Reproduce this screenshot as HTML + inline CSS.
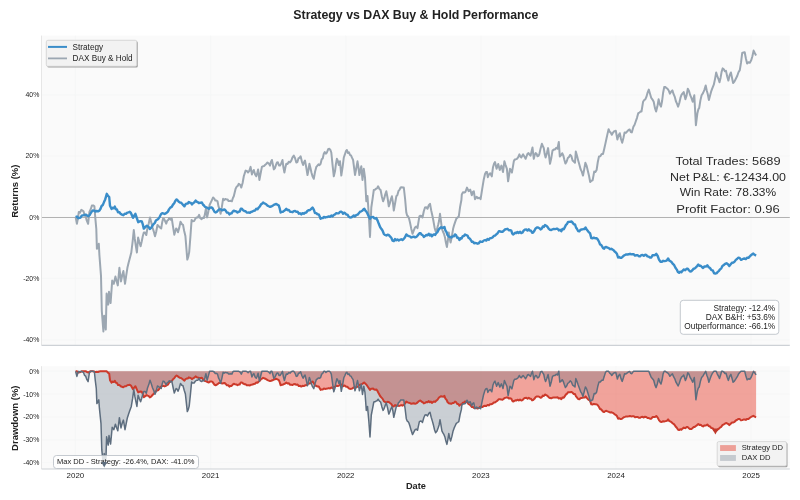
<!DOCTYPE html><html><head><meta charset="utf-8"><style>html,body{margin:0;padding:0;background:#fff;width:800px;height:500px;overflow:hidden}svg{display:block;will-change:transform}</style></head><body><svg width="800" height="500" viewBox="0 0 800 500"><rect x="0" y="0" width="800" height="500" fill="#ffffff"/>
<text x="415.8" y="18.6" text-anchor="middle" font-family='"Liberation Sans", sans-serif' font-weight="bold" font-size="12" fill="#222" textLength="245" lengthAdjust="spacingAndGlyphs">Strategy vs DAX Buy &amp; Hold Performance</text>
<rect x="41.5" y="35.6" width="748.3" height="309.7" fill="#fafafa"/>
<line x1="75.4" y1="35.6" x2="75.4" y2="345.3" stroke="#f5f6f7" stroke-width="0.7"/>
<line x1="210.6" y1="35.6" x2="210.6" y2="345.3" stroke="#f5f6f7" stroke-width="0.7"/>
<line x1="345.7" y1="35.6" x2="345.7" y2="345.3" stroke="#f5f6f7" stroke-width="0.7"/>
<line x1="480.9" y1="35.6" x2="480.9" y2="345.3" stroke="#f5f6f7" stroke-width="0.7"/>
<line x1="616.0" y1="35.6" x2="616.0" y2="345.3" stroke="#f5f6f7" stroke-width="0.7"/>
<line x1="751.1" y1="35.6" x2="751.1" y2="345.3" stroke="#f5f6f7" stroke-width="0.7"/>
<line x1="41.5" y1="94.7" x2="789.8" y2="94.7" stroke="#f5f6f7" stroke-width="0.7"/>
<line x1="41.5" y1="155.9" x2="789.8" y2="155.9" stroke="#f5f6f7" stroke-width="0.7"/>
<line x1="41.5" y1="217.2" x2="789.8" y2="217.2" stroke="#f5f6f7" stroke-width="0.7"/>
<line x1="41.5" y1="278.4" x2="789.8" y2="278.4" stroke="#f5f6f7" stroke-width="0.7"/>
<line x1="41.5" y1="339.7" x2="789.8" y2="339.7" stroke="#f5f6f7" stroke-width="0.7"/>
<line x1="41.5" y1="217.5" x2="789.8" y2="217.5" stroke="#b2b2b2" stroke-width="1"/>
<path d="M75.6,216.9 L76.9,223.8 L77.8,219.1 L78.8,211.9 L80.0,212.7 L81.3,209.8 L82.5,210.6 L83.5,211.3 L84.6,215.3 L85.6,216.3 L86.8,220.7 L88.1,223.8 L89.4,211.9 L90.7,209.2 L91.9,205.6 L93.2,205.4 L94.4,206.3 L95.3,217.8 L96.3,228.8 L96.9,248.8 L97.8,246.6 L98.8,243.8 L99.4,255.0 L101.0,275.8 L101.8,311.0 L103.4,331.5 L104.2,315.8 L105.8,329.6 L106.6,293.4 L108.2,304.6 L109.0,291.8 L110.6,303.0 L112.2,280.6 L113.8,283.8 L115.4,276.6 L116.6,281.2 L117.8,285.4 L119.4,267.8 L121.0,281.4 L122.2,275.2 L123.4,271.0 L125.0,283.8 L126.2,275.6 L127.4,267.8 L128.6,262.7 L129.8,258.2 L131.3,252.5 L132.6,241.9 L133.8,230.0 L134.8,238.9 L135.9,246.3 L136.9,252.5 L138.1,237.5 L139.3,242.0 L140.6,246.3 L141.7,241.5 L142.7,236.5 L143.8,232.5 L145.1,232.5 L146.3,235.0 L147.5,227.8 L148.8,223.2 L150.0,217.5 L151.2,222.0 L152.5,227.5 L153.8,231.6 L155.0,236.3 L156.2,231.7 L157.5,225.0 L158.7,226.2 L160.0,227.5 L161.2,228.5 L162.1,222.8 L163.1,218.6 L164.1,218.9 L165.2,221.4 L166.2,223.6 L167.2,220.7 L168.3,219.9 L169.3,218.0 L170.6,219.7 L171.8,218.6 L173.1,227.1 L174.3,234.7 L176.1,228.5 L177.1,229.5 L178.0,232.3 L179.2,228.1 L180.5,221.7 L181.8,224.1 L183.0,224.8 L184.2,231.0 L185.4,236.0 L186.4,248.5 L187.3,259.6 L188.2,257.0 L189.2,252.1 L190.4,236.7 L191.6,219.9 L192.8,221.3 L194.1,221.1 L195.3,218.8 L196.6,217.4 L197.8,217.5 L199.1,214.9 L200.3,218.3 L201.6,219.2 L202.8,217.7 L204.0,218.0 L204.9,214.1 L205.9,208.7 L207.1,217.4 L208.3,211.8 L209.6,205.0 L210.8,202.4 L211.9,200.1 L213.1,197.5 L214.2,198.4 L215.3,200.6 L216.4,200.4 L217.5,201.3 L218.5,206.4 L219.6,209.2 L220.6,213.8 L221.8,207.4 L223.1,198.8 L224.2,200.1 L225.3,199.0 L226.4,199.4 L227.5,199.4 L228.6,201.1 L229.7,201.0 L230.8,200.8 L231.9,201.3 L232.9,198.0 L233.8,196.3 L235.6,188.8 L236.7,186.6 L237.7,186.0 L238.8,183.8 L240.1,184.7 L241.3,187.5 L242.6,183.0 L243.8,176.3 L245.6,170.6 L246.8,170.9 L248.1,172.5 L249.3,170.9 L250.6,166.9 L251.9,174.4 L252.9,171.7 L253.8,170.0 L255.1,174.4 L256.3,176.3 L257.2,173.4 L258.1,169.4 L259.4,180.0 L260.6,173.5 L261.9,166.9 L262.9,166.3 L264.0,166.1 L265.0,165.0 L266.2,164.0 L267.5,162.5 L268.8,163.5 L270.0,165.6 L270.9,162.0 L271.9,160.0 L272.9,164.7 L273.8,169.4 L274.8,168.3 L275.9,165.1 L276.9,162.5 L277.9,162.3 L279.0,165.5 L280.0,165.6 L281.2,163.4 L282.5,160.0 L283.4,167.4 L284.4,172.5 L285.4,167.3 L286.3,163.8 L287.5,164.1 L288.8,161.7 L290.0,162.5 L291.3,160.6 L292.5,157.3 L293.8,155.6 L295.1,158.3 L296.3,162.5 L297.4,162.0 L298.5,158.3 L299.5,157.9 L300.6,156.3 L301.9,161.6 L303.1,165.0 L304.1,162.1 L305.0,160.6 L306.2,167.0 L307.5,175.0 L308.4,170.5 L309.4,163.8 L310.4,167.8 L311.5,172.7 L312.5,176.3 L313.8,178.8 L315.1,171.5 L316.3,166.9 L317.4,165.7 L318.5,164.4 L319.5,165.1 L320.6,163.8 L321.7,159.3 L322.7,158.4 L323.8,153.8 L324.8,152.0 L325.9,153.6 L326.9,152.5 L328.1,149.3 L329.4,148.8 L330.4,150.0 L331.3,152.5 L332.6,165.3 L333.8,176.3 L335.0,171.3 L335.9,164.1 L336.9,158.8 L337.9,161.0 L338.8,165.0 L340.0,161.3 L341.3,175.6 L342.6,167.1 L343.8,157.5 L344.8,154.7 L345.9,151.2 L346.9,150.0 L347.9,153.0 L349.0,152.4 L350.0,155.0 L351.0,155.4 L352.1,157.9 L353.1,160.0 L354.1,167.8 L355.0,175.0 L356.2,168.8 L357.5,161.3 L358.4,167.1 L359.4,175.0 L360.4,170.2 L361.3,166.3 L362.5,180.0 L363.8,168.8 L365.0,177.5 L366.3,201.3 L367.5,196.0 L368.8,215.1 L370.0,236.9 L371.3,207.5 L372.6,198.6 L373.8,190.0 L374.9,189.8 L376.0,188.8 L377.0,188.4 L378.1,186.3 L379.4,188.9 L380.6,190.0 L381.9,196.7 L383.1,201.3 L384.2,198.5 L385.2,194.6 L386.3,191.3 L387.6,198.0 L388.8,206.3 L389.8,203.4 L390.9,199.1 L391.9,196.3 L392.9,202.3 L393.8,210.6 L395.1,203.3 L396.3,196.3 L397.4,195.1 L398.5,190.9 L399.5,189.9 L400.6,187.5 L401.7,187.2 L402.7,187.5 L403.8,187.5 L405.1,199.0 L406.3,212.5 L407.2,215.7 L408.1,216.3 L409.1,218.7 L410.0,222.5 L411.2,228.4 L412.5,233.8 L413.8,230.4 L415.0,227.5 L416.2,226.5 L417.5,228.1 L418.4,222.4 L419.4,216.3 L420.4,215.7 L421.5,215.9 L422.5,217.5 L423.8,211.2 L425.0,207.5 L426.2,207.2 L427.5,208.8 L428.8,205.2 L430.0,203.8 L431.2,210.4 L432.5,216.3 L433.5,221.3 L434.6,227.7 L435.6,231.3 L436.9,229.4 L438.1,225.0 L439.1,220.8 L440.0,213.8 L440.9,220.6 L441.9,228.8 L442.9,231.5 L444.0,233.9 L445.0,237.5 L445.9,242.5 L446.9,247.0 L447.9,240.1 L448.8,232.5 L449.7,238.3 L450.6,242.5 L451.9,236.2 L453.1,228.8 L454.2,224.8 L455.2,221.9 L456.3,218.8 L457.6,217.6 L458.8,216.3 L460.1,206.8 L461.4,200.0 L461.8,194.4 L463.0,192.3 L464.2,192.5 L465.4,192.0 L467.0,187.6 L468.6,191.2 L470.2,189.6 L471.8,195.2 L472.8,192.1 L473.8,191.2 L475.0,199.2 L476.6,196.8 L477.9,198.2 L479.3,197.7 L480.6,199.2 L482.2,188.8 L483.6,180.3 L485.0,174.0 L486.0,172.1 L487.0,172.0 L487.8,177.2 L489.0,174.4 L490.2,173.2 L491.8,176.4 L493.0,167.2 L494.0,163.8 L495.0,162.0 L496.6,168.8 L498.2,164.0 L499.8,170.0 L501.4,165.6 L503.0,172.0 L504.4,161.3 L505.6,165.1 L506.9,168.8 L508.1,181.3 L509.1,175.0 L510.0,168.8 L510.9,170.1 L511.9,172.5 L512.8,167.3 L513.8,161.3 L514.7,159.5 L515.6,159.4 L516.9,158.9 L518.1,157.4 L519.4,154.4 L520.3,156.6 L521.3,157.5 L522.2,155.8 L523.1,154.4 L524.4,156.6 L525.6,158.8 L526.5,156.5 L527.5,153.8 L528.5,153.1 L529.6,154.8 L530.6,155.6 L531.5,151.6 L532.5,147.5 L533.8,158.8 L534.7,155.1 L535.6,153.1 L536.5,153.6 L537.5,156.3 L538.5,155.9 L539.4,153.8 L540.6,148.4 L541.9,143.8 L542.8,146.0 L543.8,148.1 L544.7,154.0 L545.6,157.5 L546.9,153.1 L548.1,148.1 L549.0,155.4 L550.0,163.8 L551.2,158.6 L552.5,150.6 L553.8,149.6 L555.0,149.4 L556.2,147.8 L557.5,148.8 L558.8,141.9 L559.8,156.4 L561.0,155.3 L562.2,153.2 L563.3,155.5 L564.3,159.6 L565.4,163.6 L566.6,161.8 L567.8,158.0 L569.0,156.9 L570.2,154.8 L571.4,156.2 L572.6,160.4 L573.8,161.5 L575.0,162.8 L575.8,151.6 L577.0,155.7 L578.2,160.4 L579.4,164.8 L580.6,169.2 L581.8,171.6 L583.0,175.6 L584.2,169.4 L585.4,162.8 L586.6,165.6 L587.8,170.8 L589.0,175.8 L590.2,182.0 L591.4,180.8 L592.6,180.4 L594.2,171.6 L595.4,172.0 L596.6,170.0 L597.8,162.0 L599.0,156.4 L600.3,156.3 L601.7,153.9 L603.0,154.0 L604.2,149.0 L605.4,143.6 L606.5,138.5 L607.5,133.9 L608.6,129.2 L609.7,131.8 L610.7,132.6 L611.8,134.8 L613.1,132.4 L614.5,131.1 L615.8,130.8 L617.4,139.6 L618.6,135.2 L619.8,133.2 L621.0,139.0 L622.2,142.8 L623.4,138.0 L624.6,132.4 L625.9,132.9 L627.3,131.3 L628.6,130.0 L629.7,129.5 L630.7,132.0 L631.8,132.4 L633.4,126.8 L634.6,124.8 L635.8,121.2 L637.0,117.8 L638.3,113.1 L639.4,112.6 L640.4,111.6 L641.5,111.5 L643.1,101.7 L644.2,100.0 L645.3,99.3 L646.4,96.9 L647.6,92.6 L648.8,89.6 L650.0,93.7 L651.2,97.7 L652.5,99.6 L653.7,101.7 L654.9,107.9 L656.1,111.5 L657.4,106.3 L658.6,99.3 L659.8,104.2 L661.0,106.6 L662.1,101.0 L663.1,93.0 L664.2,87.1 L665.3,86.9 L666.4,88.1 L667.5,88.7 L668.7,90.5 L669.9,93.6 L671.1,91.8 L672.4,90.4 L673.6,94.2 L674.8,96.9 L675.9,101.3 L677.0,103.6 L678.1,106.6 L679.3,103.0 L680.5,97.7 L681.6,94.7 L682.6,93.5 L683.7,92.0 L685.4,99.3 L686.6,95.4 L687.8,88.7 L689.0,91.0 L690.2,95.2 L691.5,98.2 L692.7,101.7 L694.3,95.2 L695.9,125.2 L697.4,113.2 L698.3,109.4 L699.2,108.0 L700.4,100.4 L701.6,95.2 L703.0,93.1 L704.3,90.1 L705.7,85.5 L706.8,90.8 L707.8,94.2 L708.9,100.1 L710.0,95.7 L711.1,91.7 L712.2,88.7 L713.8,84.7 L715.0,79.1 L716.2,72.5 L717.3,76.2 L718.4,78.8 L719.5,82.2 L720.6,77.7 L721.6,71.9 L722.7,68.4 L723.8,69.3 L724.9,71.3 L726.0,70.9 L727.2,76.5 L728.4,80.6 L729.6,75.4 L730.9,72.5 L732.0,77.8 L733.1,83.0 L734.4,81.6 L735.7,79.0 L737.3,75.7 L738.5,72.2 L739.8,70.1 L741.0,62.7 L742.2,53.0 L743.5,52.5 L744.7,52.2 L745.9,58.5 L747.1,63.6 L748.5,62.2 L749.8,62.8 L751.2,60.3 L752.4,56.2 L753.6,50.6 L754.9,53.2 L756.1,55.4" fill="none" stroke="#9ca7b2" stroke-width="2.0" stroke-linejoin="round"/>
<path d="M75.6,217.0 L76.9,216.5 L78.3,218.2 L79.6,217.8 L80.7,217.5 L81.7,215.7 L82.8,215.4 L83.9,215.1 L84.9,214.8 L86.0,214.6 L87.2,215.7 L88.4,216.2 L89.6,215.2 L90.8,213.0 L91.9,211.4 L92.9,210.5 L94.0,210.6 L95.3,211.5 L96.7,211.0 L98.0,211.4 L99.2,210.7 L100.4,209.0 L101.6,206.0 L102.8,205.0 L104.0,202.1 L105.2,199.4 L106.8,193.8 L108.0,195.8 L109.2,197.0 L110.0,205.8 L111.6,209.0 L112.7,207.7 L113.7,208.3 L114.8,206.6 L115.9,209.3 L116.9,209.4 L118.0,212.2 L119.3,212.1 L120.7,213.9 L122.0,214.6 L123.3,215.2 L124.7,213.8 L126.0,213.8 L127.3,212.6 L128.5,212.3 L129.8,211.8 L130.9,212.9 L131.9,215.2 L133.0,217.8 L134.2,215.7 L135.4,213.8 L136.8,218.0 L138.2,222.2 L139.4,221.4 L140.6,221.1 L141.8,221.4 L142.8,224.4 L143.8,228.6 L145.2,227.1 L146.6,225.8 L147.7,226.4 L148.7,227.0 L149.8,229.0 L151.1,227.9 L152.5,225.6 L153.8,223.8 L154.9,222.8 L155.9,220.5 L157.0,219.8 L158.3,218.9 L159.7,216.8 L161.0,214.2 L162.2,213.2 L163.4,213.5 L164.6,214.0 L165.8,213.4 L166.9,212.5 L167.9,211.6 L169.0,209.4 L170.3,207.6 L171.7,206.9 L173.0,204.6 L174.2,203.2 L175.4,200.7 L176.6,199.4 L177.7,200.4 L178.8,201.8 L179.9,202.5 L181.0,202.6 L182.1,203.8 L183.3,205.2 L184.4,206.3 L185.5,204.3 L186.6,203.6 L187.7,203.6 L188.8,201.9 L189.8,202.6 L190.9,202.9 L191.9,204.4 L193.1,203.2 L194.4,202.3 L195.6,200.6 L196.7,201.8 L197.7,202.0 L198.8,203.1 L199.8,202.8 L200.9,202.7 L201.9,202.5 L202.9,204.5 L204.0,205.5 L205.0,206.9 L206.3,207.3 L207.5,208.1 L208.8,208.8 L210.0,207.6 L211.3,207.4 L212.5,208.1 L213.5,210.0 L214.6,212.0 L215.6,212.5 L216.7,211.9 L217.8,210.7 L218.9,209.5 L220.0,209.4 L221.1,209.4 L222.2,210.4 L223.3,209.9 L224.4,209.4 L225.7,210.7 L226.9,212.6 L228.2,212.6 L229.4,214.4 L230.5,213.5 L231.6,213.4 L232.7,211.7 L233.8,210.6 L235.0,211.2 L236.3,211.4 L237.5,212.5 L238.6,211.7 L239.7,211.6 L240.8,208.7 L241.9,208.8 L243.1,210.2 L244.4,211.1 L245.6,211.3 L246.7,212.5 L247.7,212.6 L248.8,212.5 L250.0,212.7 L251.3,211.8 L252.5,211.5 L253.8,210.8 L255.0,210.6 L256.3,208.7 L257.5,209.3 L258.8,207.5 L259.9,206.4 L261.0,204.4 L262.0,203.8 L263.1,202.5 L264.2,203.2 L265.3,203.8 L266.4,204.5 L267.5,205.6 L268.8,206.3 L270.0,206.9 L271.2,206.5 L272.5,205.9 L273.8,204.9 L275.0,204.4 L276.3,203.9 L277.5,204.7 L278.8,205.6 L279.7,208.4 L280.6,212.5 L281.7,211.9 L282.9,211.7 L284.0,210.9 L285.2,210.1 L286.3,208.8 L287.6,210.2 L288.8,209.9 L290.1,211.8 L291.3,211.9 L292.6,212.2 L293.8,211.1 L295.1,210.9 L296.3,211.9 L297.6,211.6 L298.8,213.7 L300.1,213.3 L301.3,214.4 L302.6,213.1 L303.8,213.7 L305.1,212.7 L306.3,212.5 L307.5,210.8 L308.8,210.2 L310.0,210.0 L311.2,208.8 L312.5,207.5 L313.8,209.6 L315.0,213.1 L316.3,213.1 L317.5,214.4 L318.8,214.4 L319.7,216.5 L320.6,218.8 L321.7,218.1 L322.8,218.1 L323.9,216.9 L325.0,217.5 L326.2,217.1 L327.5,217.0 L328.8,216.4 L330.0,216.9 L331.3,215.5 L332.5,216.4 L333.8,215.0 L335.0,214.4 L336.3,213.2 L337.5,213.4 L338.8,213.2 L340.0,211.9 L341.0,211.6 L342.1,212.2 L343.1,213.8 L344.1,212.7 L345.0,213.1 L346.2,214.6 L347.5,214.6 L348.8,216.8 L350.0,217.5 L351.3,217.4 L352.5,216.6 L353.8,215.4 L355.0,216.5 L356.3,215.0 L357.6,214.7 L358.8,213.2 L360.1,211.7 L361.3,211.3 L362.3,210.8 L363.4,209.4 L364.4,208.8 L365.4,210.6 L366.5,211.8 L367.5,213.8 L368.8,216.6 L370.0,218.8 L371.0,217.3 L372.1,217.1 L373.1,216.9 L374.2,218.2 L375.2,218.5 L376.3,218.1 L377.6,220.6 L378.8,223.8 L380.1,227.0 L381.3,228.8 L382.5,230.5 L383.8,233.8 L385.0,235.0 L386.3,235.5 L387.5,234.8 L388.8,235.0 L390.0,236.4 L391.3,237.8 L392.5,240.6 L393.8,241.1 L395.0,239.1 L396.2,240.3 L397.5,239.4 L398.8,240.5 L400.0,239.8 L401.2,239.2 L402.5,240.0 L403.8,238.9 L405.0,237.2 L406.3,234.4 L407.6,235.6 L408.8,236.0 L410.1,236.5 L411.3,237.5 L412.6,237.0 L413.8,236.6 L415.1,237.4 L416.3,236.9 L417.4,235.8 L418.5,234.4 L419.5,233.3 L420.6,233.1 L421.7,234.7 L422.7,235.2 L423.8,236.9 L425.1,236.1 L426.3,235.0 L427.6,235.3 L428.8,233.8 L429.8,235.4 L430.9,234.5 L431.9,236.3 L433.0,234.9 L434.1,234.4 L435.2,234.9 L436.3,233.1 L437.5,232.0 L438.8,229.4 L440.0,228.1 L441.1,227.2 L442.2,227.8 L443.3,227.9 L444.4,226.9 L445.4,230.5 L446.5,232.0 L447.5,235.0 L448.8,236.6 L450.0,237.0 L451.3,237.5 L452.5,236.4 L453.8,236.4 L455.0,234.4 L456.1,235.3 L457.2,237.7 L458.3,237.8 L459.4,240.0 L460.5,238.2 L461.6,238.6 L462.8,236.1 L463.9,236.0 L465.0,234.4 L466.2,235.2 L467.5,235.6 L468.6,237.9 L469.7,238.5 L470.8,240.0 L471.9,241.9 L473.0,241.8 L474.1,243.2 L475.2,243.0 L476.3,243.1 L477.6,243.7 L478.8,243.3 L480.1,241.5 L481.3,241.9 L482.6,241.7 L483.8,240.5 L485.1,240.0 L486.3,240.6 L487.5,238.9 L488.8,239.7 L490.0,238.1 L491.2,238.1 L492.5,237.5 L493.8,235.9 L495.0,235.6 L496.3,234.4 L497.5,233.3 L498.8,231.3 L500.0,231.3 L501.3,231.8 L502.5,231.9 L503.8,230.6 L505.0,229.5 L506.2,229.1 L507.5,228.8 L508.8,230.2 L510.0,230.1 L511.3,230.6 L512.2,233.4 L513.1,234.4 L514.2,233.7 L515.3,232.7 L516.4,233.1 L517.5,231.9 L518.8,233.0 L520.0,231.7 L521.3,233.1 L522.5,232.5 L523.8,230.4 L525.0,229.6 L526.3,229.4 L527.5,230.6 L528.8,229.3 L530.0,230.6 L531.0,230.7 L532.1,232.8 L533.1,232.5 L534.4,230.7 L535.6,228.4 L536.9,227.5 L538.1,227.5 L539.4,228.2 L540.6,229.4 L541.7,228.8 L542.8,226.4 L543.9,226.9 L545.0,225.0 L546.2,225.7 L547.5,226.9 L548.8,228.9 L550.0,229.8 L551.3,230.0 L552.5,229.3 L553.8,228.9 L555.0,229.1 L556.3,228.8 L557.5,228.6 L558.8,230.4 L560.0,229.8 L561.3,231.3 L562.5,228.9 L563.8,229.3 L565.0,226.9 L566.0,224.8 L567.1,223.8 L568.1,221.9 L569.2,221.9 L570.3,221.8 L571.4,221.5 L572.5,222.5 L573.8,224.3 L575.0,224.4 L576.0,227.5 L576.9,228.8 L578.1,231.0 L579.4,231.3 L580.4,229.9 L581.5,229.5 L582.5,229.4 L583.5,229.0 L584.6,229.1 L585.6,227.5 L586.5,229.1 L587.5,230.6 L588.8,232.2 L590.0,233.1 L591.3,238.1 L592.5,238.4 L593.8,237.6 L595.0,238.2 L596.3,238.1 L597.2,238.7 L598.1,240.0 L599.0,241.7 L600.0,244.4 L601.0,244.8 L602.1,246.4 L603.1,248.1 L604.2,248.7 L605.2,247.2 L606.3,246.9 L607.5,247.7 L608.8,248.1 L610.0,249.2 L611.3,248.8 L612.3,249.4 L613.4,250.1 L614.4,251.3 L615.6,252.2 L616.9,253.8 L618.1,257.5 L619.2,257.0 L620.3,257.9 L621.4,257.8 L622.5,256.9 L623.8,255.6 L625.0,255.0 L626.2,254.4 L627.5,254.5 L628.8,254.3 L630.0,253.8 L631.2,254.4 L632.5,254.2 L633.8,254.2 L635.0,255.6 L636.2,255.3 L637.5,255.1 L638.8,256.2 L640.0,256.3 L641.3,255.2 L642.5,254.9 L643.8,255.8 L645.0,254.8 L646.3,255.0 L647.5,256.4 L648.8,256.7 L650.0,257.5 L651.3,257.5 L652.5,255.3 L653.8,255.3 L655.0,255.1 L656.3,253.8 L657.7,256.0 L659.1,259.8 L660.5,261.7 L661.9,261.8 L663.2,260.8 L664.6,261.1 L665.8,260.8 L666.9,260.3 L668.1,258.4 L669.1,260.4 L670.1,261.1 L671.5,262.1 L672.9,263.9 L674.2,265.2 L675.6,268.0 L676.8,269.6 L677.9,272.0 L679.1,272.8 L680.2,271.7 L681.4,272.3 L682.5,270.8 L683.9,269.4 L685.2,270.2 L686.6,268.7 L687.8,268.7 L688.9,270.2 L690.1,271.5 L691.2,271.4 L692.4,270.2 L693.5,268.7 L694.7,268.5 L695.9,267.3 L697.1,266.1 L698.3,264.6 L699.5,265.8 L700.7,265.7 L701.9,267.0 L703.1,268.0 L704.5,266.4 L705.9,266.6 L707.3,265.3 L708.7,267.2 L710.0,268.0 L711.4,270.1 L712.8,270.4 L714.1,273.3 L715.5,273.5 L716.7,273.2 L717.8,271.8 L719.0,270.8 L720.1,269.3 L721.3,268.3 L722.4,266.0 L723.8,265.0 L725.1,263.9 L726.5,263.2 L727.9,264.3 L729.3,266.0 L730.7,264.3 L732.0,262.7 L733.4,262.5 L734.6,261.6 L735.8,259.9 L737.0,259.0 L738.2,257.7 L739.6,257.9 L741.0,259.8 L742.2,259.3 L743.4,258.7 L744.6,258.5 L745.8,259.1 L747.2,257.7 L748.5,257.9 L749.9,256.3 L751.0,255.2 L752.2,254.3 L753.3,253.6 L754.7,254.8 L756.1,255.6" fill="none" stroke="#3a8dc9" stroke-width="2.4" stroke-linejoin="round"/>
<line x1="41.5" y1="35.6" x2="41.5" y2="345.3" stroke="#e6e6e6" stroke-width="1"/>
<line x1="41.5" y1="345.3" x2="789.8" y2="345.3" stroke="#cdd1d6" stroke-width="1.2"/>
<text x="39.3" y="97.2" text-anchor="end" font-family='"Liberation Sans", sans-serif' font-size="6.9" fill="#222">40%</text>
<text x="39.3" y="158.4" text-anchor="end" font-family='"Liberation Sans", sans-serif' font-size="6.9" fill="#222">20%</text>
<text x="39.3" y="219.7" text-anchor="end" font-family='"Liberation Sans", sans-serif' font-size="6.9" fill="#222">0%</text>
<text x="39.3" y="280.9" text-anchor="end" font-family='"Liberation Sans", sans-serif' font-size="6.9" fill="#222">-20%</text>
<text x="39.3" y="342.2" text-anchor="end" font-family='"Liberation Sans", sans-serif' font-size="6.9" fill="#222">-40%</text>
<text transform="translate(17.8,191.2) rotate(-90)" text-anchor="middle" font-family='"Liberation Sans", sans-serif' font-weight="bold" font-size="9.5" fill="#222">Returns (%)</text>
<rect x="47.3" y="41.3" width="90.5" height="26.2" rx="1.5" fill="#8a8a8a" opacity="0.8"/>
<rect x="46.3" y="40.3" width="90.5" height="26" rx="1.5" fill="#f2f2f2" stroke="#d0d0d0" stroke-width="0.8"/>
<line x1="48" y1="46.9" x2="67" y2="46.9" stroke="#3a8dc9" stroke-width="2.0"/>
<line x1="48" y1="58.4" x2="67" y2="58.4" stroke="#9ca7b2" stroke-width="1.8"/>
<text x="72.6" y="49.6" font-family='"Liberation Sans", sans-serif' font-size="8.2" fill="#222">Strategy</text>
<text x="72.6" y="61.3" font-family='"Liberation Sans", sans-serif' font-size="8.2" fill="#222">DAX Buy &amp; Hold</text>
<text x="728" y="164.6" text-anchor="middle" font-family='"Liberation Sans", sans-serif' font-size="11.4" fill="#2a2a2a" textLength="105" lengthAdjust="spacingAndGlyphs">Total Trades: 5689</text>
<text x="728" y="180.6" text-anchor="middle" font-family='"Liberation Sans", sans-serif' font-size="11.4" fill="#2a2a2a" textLength="116" lengthAdjust="spacingAndGlyphs">Net P&amp;L: €-12434.00</text>
<text x="728" y="196.4" text-anchor="middle" font-family='"Liberation Sans", sans-serif' font-size="11.4" fill="#2a2a2a" textLength="96.3" lengthAdjust="spacingAndGlyphs">Win Rate: 78.33%</text>
<text x="728" y="212.6" text-anchor="middle" font-family='"Liberation Sans", sans-serif' font-size="11.4" fill="#2a2a2a" textLength="103.5" lengthAdjust="spacingAndGlyphs">Profit Factor: 0.96</text>
<rect x="680.3" y="300.3" width="98.5" height="34" rx="3" fill="#ffffff" fill-opacity="0.85" stroke="#b6bcc4" stroke-width="0.8"/>
<text x="775.2" y="310.9" text-anchor="end" font-family='"Liberation Sans", sans-serif' font-size="8.3" fill="#222">Strategy: -12.4%</text>
<text x="775.2" y="319.8" text-anchor="end" font-family='"Liberation Sans", sans-serif' font-size="8.3" fill="#222">DAX B&amp;H: +53.6%</text>
<text x="775.2" y="328.7" text-anchor="end" font-family='"Liberation Sans", sans-serif' font-size="8.3" fill="#222">Outperformance: -66.1%</text>
<rect x="41.5" y="366.2" width="748.3" height="102.80000000000001" fill="#fafafa"/>
<line x1="75.4" y1="366.2" x2="75.4" y2="469.0" stroke="#f5f6f7" stroke-width="0.7"/>
<line x1="210.6" y1="366.2" x2="210.6" y2="469.0" stroke="#f5f6f7" stroke-width="0.7"/>
<line x1="345.7" y1="366.2" x2="345.7" y2="469.0" stroke="#f5f6f7" stroke-width="0.7"/>
<line x1="480.9" y1="366.2" x2="480.9" y2="469.0" stroke="#f5f6f7" stroke-width="0.7"/>
<line x1="616.0" y1="366.2" x2="616.0" y2="469.0" stroke="#f5f6f7" stroke-width="0.7"/>
<line x1="751.1" y1="366.2" x2="751.1" y2="469.0" stroke="#f5f6f7" stroke-width="0.7"/>
<line x1="41.5" y1="371.3" x2="789.8" y2="371.3" stroke="#f5f6f7" stroke-width="0.7"/>
<line x1="41.5" y1="394.1" x2="789.8" y2="394.1" stroke="#f5f6f7" stroke-width="0.7"/>
<line x1="41.5" y1="416.9" x2="789.8" y2="416.9" stroke="#f5f6f7" stroke-width="0.7"/>
<line x1="41.5" y1="439.7" x2="789.8" y2="439.7" stroke="#f5f6f7" stroke-width="0.7"/>
<line x1="41.5" y1="462.5" x2="789.8" y2="462.5" stroke="#f5f6f7" stroke-width="0.7"/>
<path d="M75.6,371.3 L75.6,371.3 L76.9,371.3 L78.3,372.6 L79.6,372.2 L80.7,372.0 L81.7,371.3 L82.8,371.3 L83.9,371.3 L84.9,371.3 L86.0,371.3 L87.2,372.1 L88.4,372.5 L89.6,371.7 L90.8,371.3 L91.9,371.3 L92.9,371.3 L94.0,371.4 L95.3,372.1 L96.7,371.7 L98.0,372.0 L99.2,371.5 L100.4,371.3 L101.6,371.3 L102.8,371.3 L104.0,371.3 L105.2,371.3 L106.8,371.3 L108.0,372.8 L109.2,373.7 L110.0,380.2 L111.6,382.6 L112.7,381.6 L113.7,382.1 L114.8,380.8 L115.9,382.8 L116.9,382.9 L118.0,385.0 L119.3,384.9 L120.7,386.3 L122.0,386.8 L123.3,387.2 L124.7,386.2 L126.0,386.2 L127.3,385.3 L128.5,385.1 L129.8,384.7 L130.9,385.5 L131.9,387.3 L133.0,389.2 L134.2,387.6 L135.4,386.2 L136.8,389.3 L138.2,392.4 L139.4,391.8 L140.6,391.6 L141.8,391.8 L142.8,394.1 L143.8,397.2 L145.2,396.1 L146.6,395.1 L147.7,395.6 L148.7,396.0 L149.8,397.5 L151.1,396.7 L152.5,395.0 L153.8,393.6 L154.9,392.9 L155.9,391.2 L157.0,390.7 L158.3,390.0 L159.7,388.4 L161.0,386.5 L162.2,385.8 L163.4,385.9 L164.6,386.4 L165.8,385.9 L166.9,385.2 L167.9,384.6 L169.0,382.9 L170.3,381.6 L171.7,381.0 L173.0,379.3 L174.2,378.3 L175.4,376.5 L176.6,375.5 L177.7,376.2 L178.8,377.2 L179.9,377.8 L181.0,377.9 L182.1,378.8 L183.3,379.8 L184.4,380.6 L185.5,379.1 L186.6,378.6 L187.7,378.6 L188.8,377.3 L189.8,377.8 L190.9,378.1 L191.9,379.2 L193.1,378.3 L194.4,377.6 L195.6,376.4 L196.7,377.2 L197.7,377.4 L198.8,378.2 L199.8,378.0 L200.9,377.9 L201.9,377.8 L202.9,379.3 L204.0,380.0 L205.0,381.1 L206.3,381.4 L207.5,382.0 L208.8,382.5 L210.0,381.6 L211.3,381.4 L212.5,381.9 L213.5,383.3 L214.6,384.8 L215.6,385.2 L216.7,384.8 L217.8,383.9 L218.9,383.0 L220.0,382.9 L221.1,382.9 L222.2,383.6 L223.3,383.3 L224.4,382.9 L225.7,383.9 L226.9,385.3 L228.2,385.3 L229.4,386.6 L230.5,385.9 L231.6,385.9 L232.7,384.6 L233.8,383.8 L235.0,384.2 L236.3,384.4 L237.5,385.2 L238.6,384.6 L239.7,384.5 L240.8,382.4 L241.9,382.5 L243.1,383.5 L244.4,384.2 L245.6,384.3 L246.7,385.2 L247.7,385.3 L248.8,385.2 L250.0,385.4 L251.3,384.7 L252.5,384.5 L253.8,384.0 L255.0,383.8 L256.3,382.4 L257.5,382.8 L258.8,381.5 L259.9,380.7 L261.0,379.2 L262.0,378.7 L263.1,377.8 L264.2,378.3 L265.3,378.7 L266.4,379.3 L267.5,380.1 L268.8,380.6 L270.0,381.1 L271.2,380.8 L272.5,380.3 L273.8,379.6 L275.0,379.2 L276.3,378.8 L277.5,379.4 L278.8,380.1 L279.7,382.2 L280.6,385.2 L281.7,384.8 L282.9,384.7 L284.0,384.0 L285.2,383.5 L286.3,382.5 L287.6,383.5 L288.8,383.3 L290.1,384.7 L291.3,384.8 L292.6,385.0 L293.8,384.2 L295.1,384.1 L296.3,384.8 L297.6,384.5 L298.8,386.1 L300.1,385.8 L301.3,386.6 L302.6,385.7 L303.8,386.1 L305.1,385.3 L306.3,385.2 L307.5,384.0 L308.8,383.5 L310.0,383.4 L311.2,382.5 L312.5,381.5 L313.8,383.1 L315.0,385.7 L316.3,385.7 L317.5,386.6 L318.8,386.6 L319.7,388.2 L320.6,389.9 L321.7,389.4 L322.8,389.4 L323.9,388.5 L325.0,388.9 L326.2,388.7 L327.5,388.6 L328.8,388.1 L330.0,388.5 L331.3,387.4 L332.5,388.2 L333.8,387.1 L335.0,386.6 L336.3,385.7 L337.5,385.9 L338.8,385.7 L340.0,384.8 L341.0,384.5 L342.1,385.0 L343.1,386.2 L344.1,385.4 L345.0,385.7 L346.2,386.8 L347.5,386.8 L348.8,388.4 L350.0,388.9 L351.3,388.8 L352.5,388.3 L353.8,387.4 L355.0,388.2 L356.3,387.1 L357.6,386.8 L358.8,385.7 L360.1,384.6 L361.3,384.3 L362.3,383.9 L363.4,382.9 L364.4,382.5 L365.4,383.8 L366.5,384.7 L367.5,386.2 L368.8,388.2 L370.0,389.9 L371.0,388.8 L372.1,388.7 L373.1,388.5 L374.2,389.5 L375.2,389.7 L376.3,389.4 L377.6,391.2 L378.8,393.6 L380.1,396.0 L381.3,397.4 L382.5,398.6 L383.8,401.1 L385.0,402.0 L386.3,402.3 L387.5,401.8 L388.8,402.0 L390.0,403.0 L391.3,404.0 L392.5,406.1 L393.8,406.5 L395.0,405.0 L396.2,405.9 L397.5,405.2 L398.8,406.0 L400.0,405.6 L401.2,405.1 L402.5,405.7 L403.8,404.9 L405.0,403.6 L406.3,401.5 L407.6,402.4 L408.8,402.7 L410.1,403.1 L411.3,403.8 L412.6,403.5 L413.8,403.2 L415.1,403.8 L416.3,403.4 L417.4,402.6 L418.5,401.5 L419.5,400.7 L420.6,400.6 L421.7,401.7 L422.7,402.1 L423.8,403.4 L425.1,402.8 L426.3,402.0 L427.6,402.2 L428.8,401.1 L429.8,402.3 L430.9,401.6 L431.9,402.9 L433.0,401.9 L434.1,401.5 L435.2,401.9 L436.3,400.6 L437.5,399.7 L438.8,397.8 L440.0,396.8 L441.1,396.2 L442.2,396.6 L443.3,396.7 L444.4,395.9 L445.4,398.6 L446.5,399.7 L447.5,402.0 L448.8,403.2 L450.0,403.5 L451.3,403.8 L452.5,403.0 L453.8,403.0 L455.0,401.5 L456.1,402.2 L457.2,403.9 L458.3,404.0 L459.4,405.7 L460.5,404.4 L461.6,404.6 L462.8,402.8 L463.9,402.7 L465.0,401.5 L466.2,402.1 L467.5,402.4 L468.6,404.1 L469.7,404.6 L470.8,405.7 L471.9,407.1 L473.0,407.0 L474.1,408.1 L475.2,407.9 L476.3,408.0 L477.6,408.5 L478.8,408.1 L480.1,406.8 L481.3,407.1 L482.6,406.9 L483.8,406.0 L485.1,405.7 L486.3,406.1 L487.5,404.9 L488.8,405.4 L490.0,404.3 L491.2,404.2 L492.5,403.8 L493.8,402.6 L495.0,402.4 L496.3,401.5 L497.5,400.7 L498.8,399.2 L500.0,399.2 L501.3,399.6 L502.5,399.7 L503.8,398.7 L505.0,397.9 L506.2,397.6 L507.5,397.4 L508.8,398.4 L510.0,398.3 L511.3,398.7 L512.2,400.7 L513.1,401.5 L514.2,401.0 L515.3,400.3 L516.4,400.6 L517.5,399.7 L518.8,400.5 L520.0,399.5 L521.3,400.6 L522.5,400.1 L523.8,398.6 L525.0,397.9 L526.3,397.8 L527.5,398.7 L528.8,397.7 L530.0,398.7 L531.0,398.8 L532.1,400.4 L533.1,400.1 L534.4,398.8 L535.6,397.1 L536.9,396.4 L538.1,396.4 L539.4,396.9 L540.6,397.8 L541.7,397.3 L542.8,395.6 L543.9,396.0 L545.0,394.5 L546.2,395.1 L547.5,395.9 L548.8,397.4 L550.0,398.1 L551.3,398.3 L552.5,397.7 L553.8,397.4 L555.0,397.5 L556.3,397.4 L557.5,397.2 L558.8,398.5 L560.0,398.1 L561.3,399.2 L562.5,397.4 L563.8,397.8 L565.0,395.9 L566.0,394.4 L567.1,393.6 L568.1,392.2 L569.2,392.3 L570.3,392.2 L571.4,391.9 L572.5,392.7 L573.8,394.0 L575.0,394.1 L576.0,396.4 L576.9,397.4 L578.1,399.0 L579.4,399.2 L580.4,398.2 L581.5,397.9 L582.5,397.8 L583.5,397.5 L584.6,397.6 L585.6,396.4 L586.5,397.6 L587.5,398.7 L588.8,399.9 L590.0,400.6 L591.3,404.3 L592.5,404.5 L593.8,403.9 L595.0,404.3 L596.3,404.3 L597.2,404.7 L598.1,405.7 L599.0,407.0 L600.0,409.0 L601.0,409.3 L602.1,410.5 L603.1,411.7 L604.2,412.1 L605.2,411.1 L606.3,410.8 L607.5,411.4 L608.8,411.8 L610.0,412.5 L611.3,412.2 L612.3,412.7 L613.4,413.2 L614.4,414.1 L615.6,414.8 L616.9,416.0 L618.1,418.7 L619.2,418.3 L620.3,419.0 L621.4,419.0 L622.5,418.3 L623.8,417.3 L625.0,416.9 L626.2,416.4 L627.5,416.5 L628.8,416.3 L630.0,416.0 L631.2,416.4 L632.5,416.3 L633.8,416.3 L635.0,417.3 L636.2,417.1 L637.5,416.9 L638.8,417.8 L640.0,417.8 L641.3,417.0 L642.5,416.8 L643.8,417.5 L645.0,416.7 L646.3,416.9 L647.5,417.9 L648.8,418.1 L650.0,418.7 L651.3,418.7 L652.5,417.1 L653.8,417.1 L655.0,417.0 L656.3,416.0 L657.7,417.6 L659.1,420.4 L660.5,421.8 L661.9,421.9 L663.2,421.2 L664.6,421.4 L665.8,421.1 L666.9,420.8 L668.1,419.4 L669.1,420.9 L670.1,421.4 L671.5,422.2 L672.9,423.5 L674.2,424.4 L675.6,426.5 L676.8,427.8 L677.9,429.5 L679.1,430.1 L680.2,429.3 L681.4,429.7 L682.5,428.6 L683.9,427.6 L685.2,428.2 L686.6,427.1 L687.8,427.1 L688.9,428.2 L690.1,429.1 L691.2,429.1 L692.4,428.2 L693.5,427.1 L694.7,426.9 L695.9,426.0 L697.1,425.1 L698.3,424.0 L699.5,424.9 L700.7,424.8 L701.9,425.8 L703.1,426.5 L704.5,425.4 L705.9,425.5 L707.3,424.5 L708.7,426.0 L710.0,426.5 L711.4,428.1 L712.8,428.3 L714.1,430.5 L715.5,430.6 L716.7,430.4 L717.8,429.4 L719.0,428.6 L720.1,427.5 L721.3,426.8 L722.4,425.1 L723.8,424.3 L725.1,423.5 L726.5,423.0 L727.9,423.8 L729.3,425.1 L730.7,423.8 L732.0,422.6 L733.4,422.4 L734.6,421.8 L735.8,420.5 L737.0,419.9 L738.2,418.9 L739.6,419.0 L741.0,420.4 L742.2,420.1 L743.4,419.6 L744.6,419.5 L745.8,419.9 L747.2,418.9 L748.5,419.0 L749.9,417.8 L751.0,417.0 L752.2,416.3 L753.3,415.8 L754.7,416.7 L756.1,417.3 L756.1,371.3 Z" fill="#e74c3c" fill-opacity="0.5"/>
<path d="M75.6,371.3 L75.6,371.3 L76.9,376.4 L77.8,373.0 L78.8,371.3 L80.0,371.9 L81.3,371.3 L82.5,371.9 L83.5,372.5 L84.6,375.4 L85.6,376.1 L86.8,379.4 L88.1,381.7 L89.4,372.9 L90.7,371.3 L91.9,371.3 L93.2,371.3 L94.4,372.0 L95.3,380.6 L96.3,388.7 L96.9,403.6 L97.8,402.0 L98.8,399.9 L99.4,408.2 L101.0,423.7 L101.8,449.9 L103.4,465.2 L104.2,453.5 L105.8,463.8 L106.6,436.8 L108.2,445.1 L109.0,435.6 L110.6,444.0 L112.2,427.3 L113.8,429.7 L115.4,424.3 L116.6,427.7 L117.8,430.8 L119.4,417.7 L121.0,427.9 L122.2,423.3 L123.4,420.1 L125.0,429.7 L126.2,423.6 L127.4,417.7 L128.6,414.0 L129.8,410.6 L131.3,406.4 L132.6,398.4 L133.8,389.6 L134.8,396.2 L135.9,401.7 L136.9,406.4 L138.1,395.2 L139.3,398.6 L140.6,401.7 L141.7,398.2 L142.7,394.4 L143.8,391.5 L145.1,391.4 L146.3,393.3 L147.5,388.0 L148.8,384.6 L150.0,380.3 L151.2,383.6 L152.5,387.7 L153.8,390.8 L155.0,394.3 L156.2,390.9 L157.5,385.9 L158.7,386.8 L160.0,387.7 L161.2,388.5 L162.1,384.3 L163.1,381.1 L164.1,381.4 L165.2,383.2 L166.2,384.8 L167.2,382.7 L168.3,382.1 L169.3,380.7 L170.6,381.9 L171.8,381.1 L173.1,387.5 L174.3,393.1 L176.1,388.5 L177.1,389.2 L178.0,391.3 L179.2,388.2 L180.5,383.4 L181.8,385.2 L183.0,385.7 L184.2,390.3 L185.4,394.1 L186.4,403.3 L187.3,411.6 L188.2,409.7 L189.2,406.1 L190.4,394.6 L191.6,382.1 L192.8,383.1 L194.1,383.0 L195.3,381.3 L196.6,380.2 L197.8,380.3 L199.1,378.4 L200.3,380.9 L201.6,381.6 L202.8,380.4 L204.0,380.7 L204.9,377.7 L205.9,373.7 L207.1,380.2 L208.3,376.1 L209.6,371.3 L210.8,371.3 L211.9,371.3 L213.1,371.3 L214.2,372.0 L215.3,373.6 L216.4,373.4 L217.5,374.1 L218.5,377.9 L219.6,380.0 L220.6,383.4 L221.8,378.6 L223.1,372.3 L224.2,373.2 L225.3,372.4 L226.4,372.7 L227.5,372.7 L228.6,373.9 L229.7,373.9 L230.8,373.7 L231.9,374.1 L232.9,371.7 L233.8,371.3 L235.6,371.3 L236.7,371.3 L237.7,371.3 L238.8,371.3 L240.1,372.0 L241.3,374.1 L242.6,371.3 L243.8,371.3 L245.6,371.3 L246.8,371.5 L248.1,372.7 L249.3,371.5 L250.6,371.3 L251.9,376.9 L252.9,374.8 L253.8,373.6 L255.1,376.9 L256.3,378.3 L257.2,376.2 L258.1,373.2 L259.4,381.1 L260.6,376.2 L261.9,371.3 L262.9,371.3 L264.0,371.3 L265.0,371.3 L266.2,371.3 L267.5,371.3 L268.8,372.1 L270.0,373.6 L270.9,371.3 L271.9,371.3 L272.9,374.8 L273.8,378.3 L274.8,377.5 L275.9,375.1 L276.9,373.2 L277.9,373.0 L279.0,375.4 L280.0,375.5 L281.2,373.9 L282.5,371.3 L283.4,376.8 L284.4,380.6 L285.4,376.7 L286.3,374.1 L287.5,374.3 L288.8,372.6 L290.0,373.2 L291.3,371.8 L292.5,371.3 L293.8,371.3 L295.1,373.3 L296.3,376.4 L297.4,376.1 L298.5,373.3 L299.5,373.0 L300.6,371.8 L301.9,375.8 L303.1,378.3 L304.1,376.1 L305.0,375.0 L306.2,379.8 L307.5,385.7 L308.4,382.4 L309.4,377.4 L310.4,380.3 L311.5,384.1 L312.5,386.7 L313.8,388.6 L315.1,383.2 L316.3,379.7 L317.4,378.8 L318.5,377.9 L319.5,378.3 L320.6,377.4 L321.7,374.1 L322.7,373.4 L323.8,371.3 L324.8,371.3 L325.9,372.4 L326.9,371.6 L328.1,371.3 L329.4,371.3 L330.4,372.2 L331.3,374.1 L332.6,383.6 L333.8,391.8 L335.0,388.1 L335.9,382.7 L336.9,378.7 L337.9,380.4 L338.8,383.4 L340.0,380.6 L341.3,391.3 L342.6,384.9 L343.8,377.8 L344.8,375.7 L345.9,373.1 L346.9,372.2 L347.9,374.5 L349.0,373.9 L350.0,375.9 L351.0,376.2 L352.1,378.1 L353.1,379.6 L354.1,385.5 L355.0,390.8 L356.2,386.2 L357.5,380.6 L358.4,384.9 L359.4,390.8 L360.4,387.2 L361.3,384.3 L362.5,394.5 L363.8,386.2 L365.0,392.7 L366.3,410.4 L367.5,406.4 L368.8,420.7 L370.0,436.9 L371.3,415.0 L372.6,408.4 L373.8,402.0 L374.9,401.8 L376.0,401.1 L377.0,400.7 L378.1,399.2 L379.4,401.1 L380.6,402.0 L381.9,406.9 L383.1,410.4 L384.2,408.3 L385.2,405.4 L386.3,402.9 L387.6,408.0 L388.8,414.1 L389.8,412.0 L390.9,408.8 L391.9,406.7 L392.9,411.2 L393.8,417.3 L395.1,411.9 L396.3,406.7 L397.4,405.8 L398.5,402.6 L399.5,401.9 L400.6,400.1 L401.7,399.9 L402.7,400.1 L403.8,400.1 L405.1,408.7 L406.3,418.7 L407.2,421.1 L408.1,421.6 L409.1,423.4 L410.0,426.2 L411.2,430.6 L412.5,434.6 L413.8,432.1 L415.0,429.9 L416.2,429.1 L417.5,430.3 L418.4,426.1 L419.4,421.6 L420.4,421.1 L421.5,421.2 L422.5,422.4 L423.8,417.8 L425.0,415.0 L426.2,414.8 L427.5,416.0 L428.8,413.3 L430.0,412.2 L431.2,417.2 L432.5,421.6 L433.5,425.3 L434.6,430.0 L435.6,432.7 L436.9,431.3 L438.1,428.0 L439.1,424.9 L440.0,419.7 L440.9,424.7 L441.9,430.9 L442.9,432.9 L444.0,434.7 L445.0,437.3 L445.9,441.1 L446.9,444.4 L447.9,439.3 L448.8,433.6 L449.7,438.0 L450.6,441.1 L451.9,436.4 L453.1,430.9 L454.2,427.9 L455.2,425.7 L456.3,423.4 L457.6,422.5 L458.8,421.6 L460.1,414.5 L461.4,409.4 L461.8,405.2 L463.0,403.7 L464.2,403.9 L465.4,403.5 L467.0,400.2 L468.6,402.9 L470.2,401.7 L471.8,405.8 L472.8,403.5 L473.8,402.9 L475.0,408.8 L476.6,407.0 L477.9,408.1 L479.3,407.7 L480.6,408.8 L482.2,401.1 L483.6,394.7 L485.0,390.1 L486.0,388.7 L487.0,388.6 L487.8,392.4 L489.0,390.4 L490.2,389.5 L491.8,391.8 L493.0,385.0 L494.0,382.5 L495.0,381.1 L496.6,386.2 L498.2,382.6 L499.8,387.1 L501.4,383.8 L503.0,388.6 L504.4,380.6 L505.6,383.4 L506.9,386.2 L508.1,395.5 L509.1,390.8 L510.0,386.2 L510.9,387.2 L511.9,388.9 L512.8,385.1 L513.8,380.6 L514.7,379.3 L515.6,379.2 L516.9,378.8 L518.1,377.7 L519.4,375.5 L520.3,377.1 L521.3,377.8 L522.2,376.5 L523.1,375.5 L524.4,377.1 L525.6,378.7 L526.5,377.1 L527.5,375.0 L528.5,374.5 L529.6,375.7 L530.6,376.4 L531.5,373.4 L532.5,371.3 L533.8,379.7 L534.7,376.9 L535.6,375.5 L536.5,375.8 L537.5,377.9 L538.5,377.6 L539.4,376.0 L540.6,372.0 L541.9,371.3 L542.8,372.9 L543.8,374.5 L544.7,378.9 L545.6,381.5 L546.9,378.2 L548.1,374.5 L549.0,379.9 L550.0,386.2 L551.2,382.3 L552.5,376.4 L553.8,375.6 L555.0,375.5 L556.2,374.2 L557.5,375.0 L558.8,371.3 L559.8,382.1 L561.0,381.3 L562.2,379.7 L563.3,381.5 L564.3,384.5 L565.4,387.5 L566.6,386.1 L567.8,383.3 L569.0,382.5 L570.2,380.9 L571.4,382.0 L572.6,385.1 L573.8,385.9 L575.0,386.9 L575.8,378.5 L577.0,381.6 L578.2,385.1 L579.4,388.3 L580.6,391.6 L581.8,393.4 L583.0,396.4 L584.2,391.8 L585.4,386.9 L586.6,388.9 L587.8,392.8 L589.0,396.5 L590.2,401.2 L591.4,400.3 L592.6,400.0 L594.2,393.4 L595.4,393.7 L596.6,392.2 L597.8,386.3 L599.0,382.1 L600.3,382.0 L601.7,380.3 L603.0,380.3 L604.2,376.6 L605.4,372.6 L606.5,371.3 L607.5,371.3 L608.6,371.3 L609.7,373.2 L610.7,373.9 L611.8,375.5 L613.1,373.7 L614.5,372.7 L615.8,372.5 L617.4,379.0 L618.6,375.8 L619.8,374.3 L621.0,378.6 L622.2,381.4 L623.4,377.8 L624.6,373.7 L625.9,374.0 L627.3,372.9 L628.6,371.9 L629.7,371.5 L630.7,373.4 L631.8,373.7 L633.4,371.3 L634.6,371.3 L635.8,371.3 L637.0,371.3 L638.3,371.3 L639.4,371.3 L640.4,371.3 L641.5,371.3 L643.1,371.3 L644.2,371.3 L645.3,371.3 L646.4,371.3 L647.6,371.3 L648.8,371.3 L650.0,374.4 L651.2,377.3 L652.5,378.8 L653.7,380.3 L654.9,384.9 L656.1,387.6 L657.4,383.7 L658.6,378.5 L659.8,382.1 L661.0,384.0 L662.1,379.8 L663.1,373.9 L664.2,371.3 L665.3,371.3 L666.4,372.2 L667.5,372.7 L668.7,374.0 L669.9,376.3 L671.1,375.0 L672.4,373.9 L673.6,376.7 L674.8,378.8 L675.9,382.0 L677.0,383.8 L678.1,386.0 L679.3,383.3 L680.5,379.4 L681.6,377.1 L682.6,376.2 L683.7,375.1 L685.4,380.5 L686.6,377.6 L687.8,372.7 L689.0,374.3 L690.2,377.5 L691.5,379.7 L692.7,382.3 L694.3,377.5 L695.9,399.8 L697.4,390.9 L698.3,388.1 L699.2,387.0 L700.4,381.4 L701.6,377.5 L703.0,375.9 L704.3,373.7 L705.7,371.3 L706.8,375.2 L707.8,377.8 L708.9,382.2 L710.0,378.9 L711.1,376.0 L712.2,373.7 L713.8,371.3 L715.0,371.3 L716.2,371.3 L717.3,374.1 L718.4,376.0 L719.5,378.5 L720.6,375.1 L721.6,371.3 L722.7,371.3 L723.8,372.0 L724.9,373.5 L726.0,373.2 L727.2,377.3 L728.4,380.4 L729.6,376.5 L730.9,374.4 L732.0,378.3 L733.1,382.2 L734.4,381.1 L735.7,379.2 L737.3,376.7 L738.5,374.1 L739.8,372.6 L741.0,371.3 L742.2,371.3 L743.5,371.3 L744.7,371.3 L745.9,376.0 L747.1,379.8 L748.5,378.8 L749.8,379.2 L751.2,377.3 L752.4,374.3 L753.6,371.3 L754.9,373.2 L756.1,374.9 L756.1,371.3 Z" fill="#5d6d7e" fill-opacity="0.3"/>
<path d="M75.6,371.3 L76.9,371.3 L78.3,372.6 L79.6,372.2 L80.7,372.0 L81.7,371.3 L82.8,371.3 L83.9,371.3 L84.9,371.3 L86.0,371.3 L87.2,372.1 L88.4,372.5 L89.6,371.7 L90.8,371.3 L91.9,371.3 L92.9,371.3 L94.0,371.4 L95.3,372.1 L96.7,371.7 L98.0,372.0 L99.2,371.5 L100.4,371.3 L101.6,371.3 L102.8,371.3 L104.0,371.3 L105.2,371.3 L106.8,371.3 L108.0,372.8 L109.2,373.7 L110.0,380.2 L111.6,382.6 L112.7,381.6 L113.7,382.1 L114.8,380.8 L115.9,382.8 L116.9,382.9 L118.0,385.0 L119.3,384.9 L120.7,386.3 L122.0,386.8 L123.3,387.2 L124.7,386.2 L126.0,386.2 L127.3,385.3 L128.5,385.1 L129.8,384.7 L130.9,385.5 L131.9,387.3 L133.0,389.2 L134.2,387.6 L135.4,386.2 L136.8,389.3 L138.2,392.4 L139.4,391.8 L140.6,391.6 L141.8,391.8 L142.8,394.1 L143.8,397.2 L145.2,396.1 L146.6,395.1 L147.7,395.6 L148.7,396.0 L149.8,397.5 L151.1,396.7 L152.5,395.0 L153.8,393.6 L154.9,392.9 L155.9,391.2 L157.0,390.7 L158.3,390.0 L159.7,388.4 L161.0,386.5 L162.2,385.8 L163.4,385.9 L164.6,386.4 L165.8,385.9 L166.9,385.2 L167.9,384.6 L169.0,382.9 L170.3,381.6 L171.7,381.0 L173.0,379.3 L174.2,378.3 L175.4,376.5 L176.6,375.5 L177.7,376.2 L178.8,377.2 L179.9,377.8 L181.0,377.9 L182.1,378.8 L183.3,379.8 L184.4,380.6 L185.5,379.1 L186.6,378.6 L187.7,378.6 L188.8,377.3 L189.8,377.8 L190.9,378.1 L191.9,379.2 L193.1,378.3 L194.4,377.6 L195.6,376.4 L196.7,377.2 L197.7,377.4 L198.8,378.2 L199.8,378.0 L200.9,377.9 L201.9,377.8 L202.9,379.3 L204.0,380.0 L205.0,381.1 L206.3,381.4 L207.5,382.0 L208.8,382.5 L210.0,381.6 L211.3,381.4 L212.5,381.9 L213.5,383.3 L214.6,384.8 L215.6,385.2 L216.7,384.8 L217.8,383.9 L218.9,383.0 L220.0,382.9 L221.1,382.9 L222.2,383.6 L223.3,383.3 L224.4,382.9 L225.7,383.9 L226.9,385.3 L228.2,385.3 L229.4,386.6 L230.5,385.9 L231.6,385.9 L232.7,384.6 L233.8,383.8 L235.0,384.2 L236.3,384.4 L237.5,385.2 L238.6,384.6 L239.7,384.5 L240.8,382.4 L241.9,382.5 L243.1,383.5 L244.4,384.2 L245.6,384.3 L246.7,385.2 L247.7,385.3 L248.8,385.2 L250.0,385.4 L251.3,384.7 L252.5,384.5 L253.8,384.0 L255.0,383.8 L256.3,382.4 L257.5,382.8 L258.8,381.5 L259.9,380.7 L261.0,379.2 L262.0,378.7 L263.1,377.8 L264.2,378.3 L265.3,378.7 L266.4,379.3 L267.5,380.1 L268.8,380.6 L270.0,381.1 L271.2,380.8 L272.5,380.3 L273.8,379.6 L275.0,379.2 L276.3,378.8 L277.5,379.4 L278.8,380.1 L279.7,382.2 L280.6,385.2 L281.7,384.8 L282.9,384.7 L284.0,384.0 L285.2,383.5 L286.3,382.5 L287.6,383.5 L288.8,383.3 L290.1,384.7 L291.3,384.8 L292.6,385.0 L293.8,384.2 L295.1,384.1 L296.3,384.8 L297.6,384.5 L298.8,386.1 L300.1,385.8 L301.3,386.6 L302.6,385.7 L303.8,386.1 L305.1,385.3 L306.3,385.2 L307.5,384.0 L308.8,383.5 L310.0,383.4 L311.2,382.5 L312.5,381.5 L313.8,383.1 L315.0,385.7 L316.3,385.7 L317.5,386.6 L318.8,386.6 L319.7,388.2 L320.6,389.9 L321.7,389.4 L322.8,389.4 L323.9,388.5 L325.0,388.9 L326.2,388.7 L327.5,388.6 L328.8,388.1 L330.0,388.5 L331.3,387.4 L332.5,388.2 L333.8,387.1 L335.0,386.6 L336.3,385.7 L337.5,385.9 L338.8,385.7 L340.0,384.8 L341.0,384.5 L342.1,385.0 L343.1,386.2 L344.1,385.4 L345.0,385.7 L346.2,386.8 L347.5,386.8 L348.8,388.4 L350.0,388.9 L351.3,388.8 L352.5,388.3 L353.8,387.4 L355.0,388.2 L356.3,387.1 L357.6,386.8 L358.8,385.7 L360.1,384.6 L361.3,384.3 L362.3,383.9 L363.4,382.9 L364.4,382.5 L365.4,383.8 L366.5,384.7 L367.5,386.2 L368.8,388.2 L370.0,389.9 L371.0,388.8 L372.1,388.7 L373.1,388.5 L374.2,389.5 L375.2,389.7 L376.3,389.4 L377.6,391.2 L378.8,393.6 L380.1,396.0 L381.3,397.4 L382.5,398.6 L383.8,401.1 L385.0,402.0 L386.3,402.3 L387.5,401.8 L388.8,402.0 L390.0,403.0 L391.3,404.0 L392.5,406.1 L393.8,406.5 L395.0,405.0 L396.2,405.9 L397.5,405.2 L398.8,406.0 L400.0,405.6 L401.2,405.1 L402.5,405.7 L403.8,404.9 L405.0,403.6 L406.3,401.5 L407.6,402.4 L408.8,402.7 L410.1,403.1 L411.3,403.8 L412.6,403.5 L413.8,403.2 L415.1,403.8 L416.3,403.4 L417.4,402.6 L418.5,401.5 L419.5,400.7 L420.6,400.6 L421.7,401.7 L422.7,402.1 L423.8,403.4 L425.1,402.8 L426.3,402.0 L427.6,402.2 L428.8,401.1 L429.8,402.3 L430.9,401.6 L431.9,402.9 L433.0,401.9 L434.1,401.5 L435.2,401.9 L436.3,400.6 L437.5,399.7 L438.8,397.8 L440.0,396.8 L441.1,396.2 L442.2,396.6 L443.3,396.7 L444.4,395.9 L445.4,398.6 L446.5,399.7 L447.5,402.0 L448.8,403.2 L450.0,403.5 L451.3,403.8 L452.5,403.0 L453.8,403.0 L455.0,401.5 L456.1,402.2 L457.2,403.9 L458.3,404.0 L459.4,405.7 L460.5,404.4 L461.6,404.6 L462.8,402.8 L463.9,402.7 L465.0,401.5 L466.2,402.1 L467.5,402.4 L468.6,404.1 L469.7,404.6 L470.8,405.7 L471.9,407.1 L473.0,407.0 L474.1,408.1 L475.2,407.9 L476.3,408.0 L477.6,408.5 L478.8,408.1 L480.1,406.8 L481.3,407.1 L482.6,406.9 L483.8,406.0 L485.1,405.7 L486.3,406.1 L487.5,404.9 L488.8,405.4 L490.0,404.3 L491.2,404.2 L492.5,403.8 L493.8,402.6 L495.0,402.4 L496.3,401.5 L497.5,400.7 L498.8,399.2 L500.0,399.2 L501.3,399.6 L502.5,399.7 L503.8,398.7 L505.0,397.9 L506.2,397.6 L507.5,397.4 L508.8,398.4 L510.0,398.3 L511.3,398.7 L512.2,400.7 L513.1,401.5 L514.2,401.0 L515.3,400.3 L516.4,400.6 L517.5,399.7 L518.8,400.5 L520.0,399.5 L521.3,400.6 L522.5,400.1 L523.8,398.6 L525.0,397.9 L526.3,397.8 L527.5,398.7 L528.8,397.7 L530.0,398.7 L531.0,398.8 L532.1,400.4 L533.1,400.1 L534.4,398.8 L535.6,397.1 L536.9,396.4 L538.1,396.4 L539.4,396.9 L540.6,397.8 L541.7,397.3 L542.8,395.6 L543.9,396.0 L545.0,394.5 L546.2,395.1 L547.5,395.9 L548.8,397.4 L550.0,398.1 L551.3,398.3 L552.5,397.7 L553.8,397.4 L555.0,397.5 L556.3,397.4 L557.5,397.2 L558.8,398.5 L560.0,398.1 L561.3,399.2 L562.5,397.4 L563.8,397.8 L565.0,395.9 L566.0,394.4 L567.1,393.6 L568.1,392.2 L569.2,392.3 L570.3,392.2 L571.4,391.9 L572.5,392.7 L573.8,394.0 L575.0,394.1 L576.0,396.4 L576.9,397.4 L578.1,399.0 L579.4,399.2 L580.4,398.2 L581.5,397.9 L582.5,397.8 L583.5,397.5 L584.6,397.6 L585.6,396.4 L586.5,397.6 L587.5,398.7 L588.8,399.9 L590.0,400.6 L591.3,404.3 L592.5,404.5 L593.8,403.9 L595.0,404.3 L596.3,404.3 L597.2,404.7 L598.1,405.7 L599.0,407.0 L600.0,409.0 L601.0,409.3 L602.1,410.5 L603.1,411.7 L604.2,412.1 L605.2,411.1 L606.3,410.8 L607.5,411.4 L608.8,411.8 L610.0,412.5 L611.3,412.2 L612.3,412.7 L613.4,413.2 L614.4,414.1 L615.6,414.8 L616.9,416.0 L618.1,418.7 L619.2,418.3 L620.3,419.0 L621.4,419.0 L622.5,418.3 L623.8,417.3 L625.0,416.9 L626.2,416.4 L627.5,416.5 L628.8,416.3 L630.0,416.0 L631.2,416.4 L632.5,416.3 L633.8,416.3 L635.0,417.3 L636.2,417.1 L637.5,416.9 L638.8,417.8 L640.0,417.8 L641.3,417.0 L642.5,416.8 L643.8,417.5 L645.0,416.7 L646.3,416.9 L647.5,417.9 L648.8,418.1 L650.0,418.7 L651.3,418.7 L652.5,417.1 L653.8,417.1 L655.0,417.0 L656.3,416.0 L657.7,417.6 L659.1,420.4 L660.5,421.8 L661.9,421.9 L663.2,421.2 L664.6,421.4 L665.8,421.1 L666.9,420.8 L668.1,419.4 L669.1,420.9 L670.1,421.4 L671.5,422.2 L672.9,423.5 L674.2,424.4 L675.6,426.5 L676.8,427.8 L677.9,429.5 L679.1,430.1 L680.2,429.3 L681.4,429.7 L682.5,428.6 L683.9,427.6 L685.2,428.2 L686.6,427.1 L687.8,427.1 L688.9,428.2 L690.1,429.1 L691.2,429.1 L692.4,428.2 L693.5,427.1 L694.7,426.9 L695.9,426.0 L697.1,425.1 L698.3,424.0 L699.5,424.9 L700.7,424.8 L701.9,425.8 L703.1,426.5 L704.5,425.4 L705.9,425.5 L707.3,424.5 L708.7,426.0 L710.0,426.5 L711.4,428.1 L712.8,428.3 L714.1,430.5 L715.5,430.6 L716.7,430.4 L717.8,429.4 L719.0,428.6 L720.1,427.5 L721.3,426.8 L722.4,425.1 L723.8,424.3 L725.1,423.5 L726.5,423.0 L727.9,423.8 L729.3,425.1 L730.7,423.8 L732.0,422.6 L733.4,422.4 L734.6,421.8 L735.8,420.5 L737.0,419.9 L738.2,418.9 L739.6,419.0 L741.0,420.4 L742.2,420.1 L743.4,419.6 L744.6,419.5 L745.8,419.9 L747.2,418.9 L748.5,419.0 L749.9,417.8 L751.0,417.0 L752.2,416.3 L753.3,415.8 L754.7,416.7 L756.1,417.3" fill="none" stroke="#cc3a2b" stroke-width="2.0" stroke-linejoin="round"/>
<path d="M75.6,371.3 L76.9,376.4 L77.8,373.0 L78.8,371.3 L80.0,371.9 L81.3,371.3 L82.5,371.9 L83.5,372.5 L84.6,375.4 L85.6,376.1 L86.8,379.4 L88.1,381.7 L89.4,372.9 L90.7,371.3 L91.9,371.3 L93.2,371.3 L94.4,372.0 L95.3,380.6 L96.3,388.7 L96.9,403.6 L97.8,402.0 L98.8,399.9 L99.4,408.2 L101.0,423.7 L101.8,449.9 L103.4,465.2 L104.2,453.5 L105.8,463.8 L106.6,436.8 L108.2,445.1 L109.0,435.6 L110.6,444.0 L112.2,427.3 L113.8,429.7 L115.4,424.3 L116.6,427.7 L117.8,430.8 L119.4,417.7 L121.0,427.9 L122.2,423.3 L123.4,420.1 L125.0,429.7 L126.2,423.6 L127.4,417.7 L128.6,414.0 L129.8,410.6 L131.3,406.4 L132.6,398.4 L133.8,389.6 L134.8,396.2 L135.9,401.7 L136.9,406.4 L138.1,395.2 L139.3,398.6 L140.6,401.7 L141.7,398.2 L142.7,394.4 L143.8,391.5 L145.1,391.4 L146.3,393.3 L147.5,388.0 L148.8,384.6 L150.0,380.3 L151.2,383.6 L152.5,387.7 L153.8,390.8 L155.0,394.3 L156.2,390.9 L157.5,385.9 L158.7,386.8 L160.0,387.7 L161.2,388.5 L162.1,384.3 L163.1,381.1 L164.1,381.4 L165.2,383.2 L166.2,384.8 L167.2,382.7 L168.3,382.1 L169.3,380.7 L170.6,381.9 L171.8,381.1 L173.1,387.5 L174.3,393.1 L176.1,388.5 L177.1,389.2 L178.0,391.3 L179.2,388.2 L180.5,383.4 L181.8,385.2 L183.0,385.7 L184.2,390.3 L185.4,394.1 L186.4,403.3 L187.3,411.6 L188.2,409.7 L189.2,406.1 L190.4,394.6 L191.6,382.1 L192.8,383.1 L194.1,383.0 L195.3,381.3 L196.6,380.2 L197.8,380.3 L199.1,378.4 L200.3,380.9 L201.6,381.6 L202.8,380.4 L204.0,380.7 L204.9,377.7 L205.9,373.7 L207.1,380.2 L208.3,376.1 L209.6,371.3 L210.8,371.3 L211.9,371.3 L213.1,371.3 L214.2,372.0 L215.3,373.6 L216.4,373.4 L217.5,374.1 L218.5,377.9 L219.6,380.0 L220.6,383.4 L221.8,378.6 L223.1,372.3 L224.2,373.2 L225.3,372.4 L226.4,372.7 L227.5,372.7 L228.6,373.9 L229.7,373.9 L230.8,373.7 L231.9,374.1 L232.9,371.7 L233.8,371.3 L235.6,371.3 L236.7,371.3 L237.7,371.3 L238.8,371.3 L240.1,372.0 L241.3,374.1 L242.6,371.3 L243.8,371.3 L245.6,371.3 L246.8,371.5 L248.1,372.7 L249.3,371.5 L250.6,371.3 L251.9,376.9 L252.9,374.8 L253.8,373.6 L255.1,376.9 L256.3,378.3 L257.2,376.2 L258.1,373.2 L259.4,381.1 L260.6,376.2 L261.9,371.3 L262.9,371.3 L264.0,371.3 L265.0,371.3 L266.2,371.3 L267.5,371.3 L268.8,372.1 L270.0,373.6 L270.9,371.3 L271.9,371.3 L272.9,374.8 L273.8,378.3 L274.8,377.5 L275.9,375.1 L276.9,373.2 L277.9,373.0 L279.0,375.4 L280.0,375.5 L281.2,373.9 L282.5,371.3 L283.4,376.8 L284.4,380.6 L285.4,376.7 L286.3,374.1 L287.5,374.3 L288.8,372.6 L290.0,373.2 L291.3,371.8 L292.5,371.3 L293.8,371.3 L295.1,373.3 L296.3,376.4 L297.4,376.1 L298.5,373.3 L299.5,373.0 L300.6,371.8 L301.9,375.8 L303.1,378.3 L304.1,376.1 L305.0,375.0 L306.2,379.8 L307.5,385.7 L308.4,382.4 L309.4,377.4 L310.4,380.3 L311.5,384.1 L312.5,386.7 L313.8,388.6 L315.1,383.2 L316.3,379.7 L317.4,378.8 L318.5,377.9 L319.5,378.3 L320.6,377.4 L321.7,374.1 L322.7,373.4 L323.8,371.3 L324.8,371.3 L325.9,372.4 L326.9,371.6 L328.1,371.3 L329.4,371.3 L330.4,372.2 L331.3,374.1 L332.6,383.6 L333.8,391.8 L335.0,388.1 L335.9,382.7 L336.9,378.7 L337.9,380.4 L338.8,383.4 L340.0,380.6 L341.3,391.3 L342.6,384.9 L343.8,377.8 L344.8,375.7 L345.9,373.1 L346.9,372.2 L347.9,374.5 L349.0,373.9 L350.0,375.9 L351.0,376.2 L352.1,378.1 L353.1,379.6 L354.1,385.5 L355.0,390.8 L356.2,386.2 L357.5,380.6 L358.4,384.9 L359.4,390.8 L360.4,387.2 L361.3,384.3 L362.5,394.5 L363.8,386.2 L365.0,392.7 L366.3,410.4 L367.5,406.4 L368.8,420.7 L370.0,436.9 L371.3,415.0 L372.6,408.4 L373.8,402.0 L374.9,401.8 L376.0,401.1 L377.0,400.7 L378.1,399.2 L379.4,401.1 L380.6,402.0 L381.9,406.9 L383.1,410.4 L384.2,408.3 L385.2,405.4 L386.3,402.9 L387.6,408.0 L388.8,414.1 L389.8,412.0 L390.9,408.8 L391.9,406.7 L392.9,411.2 L393.8,417.3 L395.1,411.9 L396.3,406.7 L397.4,405.8 L398.5,402.6 L399.5,401.9 L400.6,400.1 L401.7,399.9 L402.7,400.1 L403.8,400.1 L405.1,408.7 L406.3,418.7 L407.2,421.1 L408.1,421.6 L409.1,423.4 L410.0,426.2 L411.2,430.6 L412.5,434.6 L413.8,432.1 L415.0,429.9 L416.2,429.1 L417.5,430.3 L418.4,426.1 L419.4,421.6 L420.4,421.1 L421.5,421.2 L422.5,422.4 L423.8,417.8 L425.0,415.0 L426.2,414.8 L427.5,416.0 L428.8,413.3 L430.0,412.2 L431.2,417.2 L432.5,421.6 L433.5,425.3 L434.6,430.0 L435.6,432.7 L436.9,431.3 L438.1,428.0 L439.1,424.9 L440.0,419.7 L440.9,424.7 L441.9,430.9 L442.9,432.9 L444.0,434.7 L445.0,437.3 L445.9,441.1 L446.9,444.4 L447.9,439.3 L448.8,433.6 L449.7,438.0 L450.6,441.1 L451.9,436.4 L453.1,430.9 L454.2,427.9 L455.2,425.7 L456.3,423.4 L457.6,422.5 L458.8,421.6 L460.1,414.5 L461.4,409.4 L461.8,405.2 L463.0,403.7 L464.2,403.9 L465.4,403.5 L467.0,400.2 L468.6,402.9 L470.2,401.7 L471.8,405.8 L472.8,403.5 L473.8,402.9 L475.0,408.8 L476.6,407.0 L477.9,408.1 L479.3,407.7 L480.6,408.8 L482.2,401.1 L483.6,394.7 L485.0,390.1 L486.0,388.7 L487.0,388.6 L487.8,392.4 L489.0,390.4 L490.2,389.5 L491.8,391.8 L493.0,385.0 L494.0,382.5 L495.0,381.1 L496.6,386.2 L498.2,382.6 L499.8,387.1 L501.4,383.8 L503.0,388.6 L504.4,380.6 L505.6,383.4 L506.9,386.2 L508.1,395.5 L509.1,390.8 L510.0,386.2 L510.9,387.2 L511.9,388.9 L512.8,385.1 L513.8,380.6 L514.7,379.3 L515.6,379.2 L516.9,378.8 L518.1,377.7 L519.4,375.5 L520.3,377.1 L521.3,377.8 L522.2,376.5 L523.1,375.5 L524.4,377.1 L525.6,378.7 L526.5,377.1 L527.5,375.0 L528.5,374.5 L529.6,375.7 L530.6,376.4 L531.5,373.4 L532.5,371.3 L533.8,379.7 L534.7,376.9 L535.6,375.5 L536.5,375.8 L537.5,377.9 L538.5,377.6 L539.4,376.0 L540.6,372.0 L541.9,371.3 L542.8,372.9 L543.8,374.5 L544.7,378.9 L545.6,381.5 L546.9,378.2 L548.1,374.5 L549.0,379.9 L550.0,386.2 L551.2,382.3 L552.5,376.4 L553.8,375.6 L555.0,375.5 L556.2,374.2 L557.5,375.0 L558.8,371.3 L559.8,382.1 L561.0,381.3 L562.2,379.7 L563.3,381.5 L564.3,384.5 L565.4,387.5 L566.6,386.1 L567.8,383.3 L569.0,382.5 L570.2,380.9 L571.4,382.0 L572.6,385.1 L573.8,385.9 L575.0,386.9 L575.8,378.5 L577.0,381.6 L578.2,385.1 L579.4,388.3 L580.6,391.6 L581.8,393.4 L583.0,396.4 L584.2,391.8 L585.4,386.9 L586.6,388.9 L587.8,392.8 L589.0,396.5 L590.2,401.2 L591.4,400.3 L592.6,400.0 L594.2,393.4 L595.4,393.7 L596.6,392.2 L597.8,386.3 L599.0,382.1 L600.3,382.0 L601.7,380.3 L603.0,380.3 L604.2,376.6 L605.4,372.6 L606.5,371.3 L607.5,371.3 L608.6,371.3 L609.7,373.2 L610.7,373.9 L611.8,375.5 L613.1,373.7 L614.5,372.7 L615.8,372.5 L617.4,379.0 L618.6,375.8 L619.8,374.3 L621.0,378.6 L622.2,381.4 L623.4,377.8 L624.6,373.7 L625.9,374.0 L627.3,372.9 L628.6,371.9 L629.7,371.5 L630.7,373.4 L631.8,373.7 L633.4,371.3 L634.6,371.3 L635.8,371.3 L637.0,371.3 L638.3,371.3 L639.4,371.3 L640.4,371.3 L641.5,371.3 L643.1,371.3 L644.2,371.3 L645.3,371.3 L646.4,371.3 L647.6,371.3 L648.8,371.3 L650.0,374.4 L651.2,377.3 L652.5,378.8 L653.7,380.3 L654.9,384.9 L656.1,387.6 L657.4,383.7 L658.6,378.5 L659.8,382.1 L661.0,384.0 L662.1,379.8 L663.1,373.9 L664.2,371.3 L665.3,371.3 L666.4,372.2 L667.5,372.7 L668.7,374.0 L669.9,376.3 L671.1,375.0 L672.4,373.9 L673.6,376.7 L674.8,378.8 L675.9,382.0 L677.0,383.8 L678.1,386.0 L679.3,383.3 L680.5,379.4 L681.6,377.1 L682.6,376.2 L683.7,375.1 L685.4,380.5 L686.6,377.6 L687.8,372.7 L689.0,374.3 L690.2,377.5 L691.5,379.7 L692.7,382.3 L694.3,377.5 L695.9,399.8 L697.4,390.9 L698.3,388.1 L699.2,387.0 L700.4,381.4 L701.6,377.5 L703.0,375.9 L704.3,373.7 L705.7,371.3 L706.8,375.2 L707.8,377.8 L708.9,382.2 L710.0,378.9 L711.1,376.0 L712.2,373.7 L713.8,371.3 L715.0,371.3 L716.2,371.3 L717.3,374.1 L718.4,376.0 L719.5,378.5 L720.6,375.1 L721.6,371.3 L722.7,371.3 L723.8,372.0 L724.9,373.5 L726.0,373.2 L727.2,377.3 L728.4,380.4 L729.6,376.5 L730.9,374.4 L732.0,378.3 L733.1,382.2 L734.4,381.1 L735.7,379.2 L737.3,376.7 L738.5,374.1 L739.8,372.6 L741.0,371.3 L742.2,371.3 L743.5,371.3 L744.7,371.3 L745.9,376.0 L747.1,379.8 L748.5,378.8 L749.8,379.2 L751.2,377.3 L752.4,374.3 L753.6,371.3 L754.9,373.2 L756.1,374.9" fill="none" stroke="#5d6d7e" stroke-width="1.5" stroke-linejoin="round"/>
<line x1="41.5" y1="366.2" x2="41.5" y2="469.0" stroke="#e6e6e6" stroke-width="1"/>
<line x1="41.5" y1="469.0" x2="789.8" y2="469.0" stroke="#cdd1d6" stroke-width="1.2"/>
<text x="39.3" y="373.8" text-anchor="end" font-family='"Liberation Sans", sans-serif' font-size="6.9" fill="#222">0%</text>
<text x="39.3" y="396.6" text-anchor="end" font-family='"Liberation Sans", sans-serif' font-size="6.9" fill="#222">-10%</text>
<text x="39.3" y="419.4" text-anchor="end" font-family='"Liberation Sans", sans-serif' font-size="6.9" fill="#222">-20%</text>
<text x="39.3" y="442.2" text-anchor="end" font-family='"Liberation Sans", sans-serif' font-size="6.9" fill="#222">-30%</text>
<text x="39.3" y="465.0" text-anchor="end" font-family='"Liberation Sans", sans-serif' font-size="6.9" fill="#222">-40%</text>
<text transform="translate(17.8,418.2) rotate(-90)" text-anchor="middle" font-family='"Liberation Sans", sans-serif' font-weight="bold" font-size="9.5" fill="#222">Drawdown (%)</text>
<text x="75.4" y="478.3" text-anchor="middle" font-family='"Liberation Sans", sans-serif' font-size="7.9" fill="#222">2020</text>
<text x="210.6" y="478.3" text-anchor="middle" font-family='"Liberation Sans", sans-serif' font-size="7.9" fill="#222">2021</text>
<text x="345.7" y="478.3" text-anchor="middle" font-family='"Liberation Sans", sans-serif' font-size="7.9" fill="#222">2022</text>
<text x="480.9" y="478.3" text-anchor="middle" font-family='"Liberation Sans", sans-serif' font-size="7.9" fill="#222">2023</text>
<text x="616.0" y="478.3" text-anchor="middle" font-family='"Liberation Sans", sans-serif' font-size="7.9" fill="#222">2024</text>
<text x="751.1" y="478.3" text-anchor="middle" font-family='"Liberation Sans", sans-serif' font-size="7.9" fill="#222">2025</text>
<text x="415.9" y="488.7" text-anchor="middle" font-family='"Liberation Sans", sans-serif' font-weight="bold" font-size="9.2" fill="#222">Date</text>
<path d="M712.2,428.6 L718.6,428.6 L715.4,434.6 Z" fill="#c0392b"/>
<rect x="53.5" y="455.5" width="145" height="13" rx="3" fill="#ffffff" fill-opacity="0.8" stroke="#b6bcc4" stroke-width="0.8"/>
<text x="57" y="464.3" font-family='"Liberation Sans", sans-serif' font-size="7.5" fill="#222" textLength="137.5" lengthAdjust="spacingAndGlyphs">Max DD - Strategy: -26.4%, DAX: -41.0%</text>
<path d="M101.4,462 L107.1,462 L104.25,467.6 Z" fill="#5d6d7e"/>
<rect x="718.2" y="442.6" width="69.3" height="24.6" rx="1.5" fill="#8a8a8a" opacity="0.8"/>
<rect x="717.2" y="441.6" width="69.3" height="24.4" rx="1.5" fill="#f2f2f2" stroke="#d0d0d0" stroke-width="0.8"/>
<rect x="720.1" y="445.1" width="15.8" height="5.9" fill="#e74c3c" fill-opacity="0.5"/>
<rect x="720.1" y="455" width="15.8" height="5.9" fill="#5d6d7e" fill-opacity="0.3"/>
<text x="741.7" y="450.2" font-family='"Liberation Sans", sans-serif' font-size="7.6" fill="#222">Strategy DD</text>
<text x="741.7" y="460.2" font-family='"Liberation Sans", sans-serif' font-size="7.6" fill="#222">DAX DD</text></svg></body></html>
